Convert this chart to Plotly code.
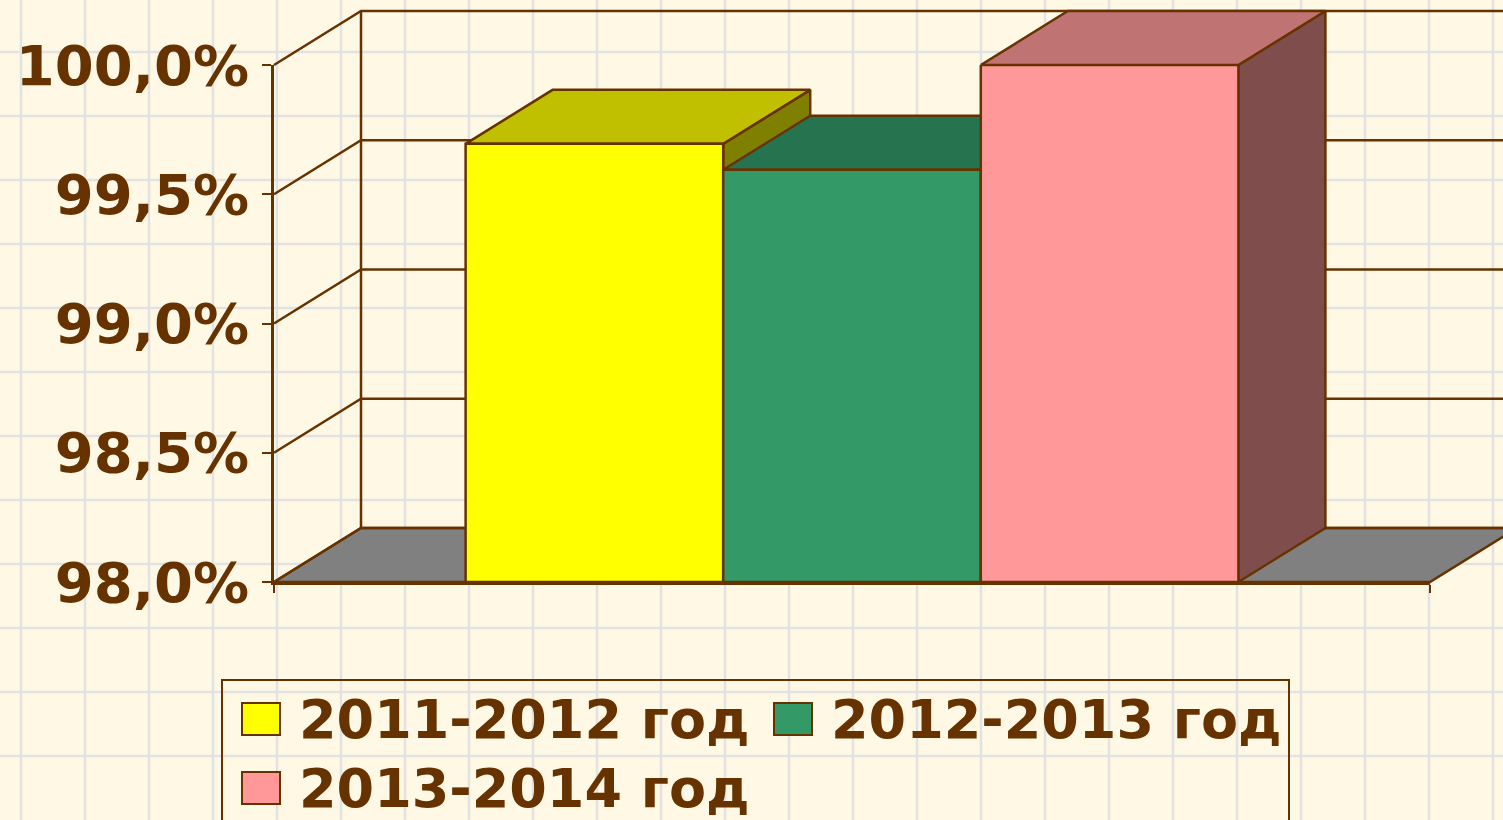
import plotly.graph_objects as go

series_names = ["2011-2012 год", "2012-2013 год", "2013-2014 год"]
series_values = [99.695, 99.595, 100.0]
front_colors = ["#FFFF00", "#339966", "#FF9999"]
top_colors = ["#C0C000", "#267350", "#BF7373"]
side_colors = ["#808000", "#1A4D33", "#804D4D"]
tick_values = [98.0, 98.5, 99.0, 99.5, 100.0]
tick_labels = ["98,0%", "98,5%", "99,0%", "99,5%", "100,0%"]

W, H = 1503, 820
BROWN = "#663300"
BG = "#FFF8E4"
GRID = "#E2E2E2"
LINE_W = 2.5
FONT = dict(family="DejaVu Sans", size=54, color=BROWN, weight="bold")
TICK_FONT = dict(family="DejaVu Sans", size=56, color=BROWN, weight="bold")
LEFT, RIGHT, Y98, Y100 = 274, 1430, 582, 65
XLO, XHI = -0.5, 0.5
SX = (RIGHT - LEFT) / (XHI - XLO)
SY = (Y98 - Y100) / (tick_values[-1] - tick_values[0])
DX = 87 / SX          # depth of the 3-D box, in x units
DY = 54 / SY          # depth of the 3-D box, in y units
BASE = tick_values[0]
TOP = tick_values[-1]
GAP = 0.3315
BAR_W = (1 - GAP) / 3
bar_left = [-(1 - GAP) / 2 + i * BAR_W for i in range(3)]

fig = go.Figure()


def poly(xs, ys, fill):
    fig.add_trace(go.Scatter(x=xs, y=ys, mode="lines", fill="toself", fillcolor=fill,
                             line=dict(color=BROWN, width=LINE_W),
                             hoverinfo="skip", showlegend=False))


# floor
poly([XLO, XLO + DX, XHI + DX, XHI, XLO], [BASE, BASE + DY, BASE + DY, BASE, BASE], "#808080")

# walls
wx, wy = [], []
for v in tick_values:
    wx += [XLO, XLO + DX, XHI + DX, None]
    wy += [v, v + DY, v + DY, None]
wx += [XLO + DX, XLO + DX, None]
wy += [BASE + DY, TOP + DY, None]
fig.add_trace(go.Scatter(x=wx, y=wy, mode="lines", line=dict(color=BROWN, width=LINE_W),
                         hoverinfo="skip", showlegend=False))

# top and side faces, back to front
for i, v in enumerate(series_values):
    x0, x1 = bar_left[i], bar_left[i] + BAR_W
    poly([x1, x1 + DX, x1 + DX, x1, x1], [BASE, BASE + DY, v + DY, v, BASE], side_colors[i])
    poly([x0, x0 + DX, x1 + DX, x1, x0], [v, v + DY, v + DY, v, v], top_colors[i])

# front faces
for i, v in enumerate(series_values):
    fig.add_trace(go.Bar(x=[0], y=[v - BASE], base=[BASE], name=series_names[i],
                         marker=dict(color=front_colors[i], line=dict(color=BROWN, width=LINE_W)),
                         xaxis="x2", yaxis="y2", cliponaxis=False, hoverinfo="skip",
                         showlegend=False))

# background squares
shapes = []
for px in range(21, W, 64):
    shapes.append(dict(type="line", xref="paper", yref="paper", x0=px / W, x1=px / W, y0=0, y1=1,
                       line=dict(color=GRID, width=2.5), layer="below"))
for py in range(52, H, 64):
    shapes.append(dict(type="line", xref="paper", yref="paper", x0=0, x1=1,
                       y0=1 - py / H, y1=1 - py / H,
                       line=dict(color=GRID, width=2.5), layer="below"))

# legend box
shapes.append(dict(type="rect", xref="paper", yref="paper", x0=222 / W, x1=1289 / W,
                   y0=-0.1, y1=1 - 680 / H, line=dict(color=BROWN, width=2), layer="above"))
legend_x = [242, 774, 242]
legend_y = [719, 719, 788]
annotations = []
for i, name in enumerate(series_names):
    shapes.append(dict(type="rect", xref="paper", yref="paper",
                       x0=legend_x[i] / W, x1=(legend_x[i] + 38) / W,
                       y0=1 - (legend_y[i] + 16) / H, y1=1 - (legend_y[i] - 16) / H,
                       fillcolor=front_colors[i], line=dict(color=BROWN, width=2), layer="above"))
    annotations.append(dict(text=name, xref="paper", yref="paper", showarrow=False,
                            x=(legend_x[i] + 56) / W, y=1 - legend_y[i] / H,
                            xanchor="left", yanchor="middle", font=FONT, borderpad=0))

xdom = [LEFT / W, RIGHT / W]
ydom = [1 - Y98 / H, 1 - Y100 / H]
fig.update_layout(
    width=W, height=H, autosize=False,
    margin=dict(l=0, r=0, t=0, b=0, pad=0, autoexpand=False),
    paper_bgcolor=BG, plot_bgcolor="rgba(0,0,0,0)",
    showlegend=False, hovermode=False,
    barmode="group", bargap=GAP, bargroupgap=0,
    shapes=shapes, annotations=annotations,
    # page-wide hidden axes carrying the depth faces, same scale as the visible axes
    xaxis=dict(domain=[0, 1], range=[XLO - LEFT / SX, XLO + (W - LEFT) / SX], visible=False,
               automargin=False),
    yaxis=dict(domain=[0, 1], range=[BASE - (H - Y98) / SY, TOP + Y100 / SY], visible=False,
               automargin=False),
    xaxis2=dict(domain=xdom, range=[XLO, XHI], anchor="y2", showgrid=False, zeroline=False,
                showline=True, linecolor=BROWN, linewidth=LINE_W, automargin=False,
                tickmode="array", tickvals=[XLO, XHI], ticktext=["", ""],
                ticks="outside", ticklen=8, tickwidth=2, tickcolor=BROWN),
    yaxis2=dict(domain=ydom, range=[BASE, TOP], anchor="x2", showgrid=False, zeroline=False,
                showline=True, linecolor=BROWN, linewidth=LINE_W, automargin=False,
                tickmode="array", tickvals=tick_values, ticktext=tick_labels,
                ticks="outside", ticklen=9, tickwidth=2, tickcolor=BROWN,
                ticklabelstandoff=2, tickfont=TICK_FONT),
)
fig.write_html("out.html", config=dict(displayModeBar=False),
               post_script="document.body.style.margin='0';"
                           "document.body.style.background='%s';" % BG)
